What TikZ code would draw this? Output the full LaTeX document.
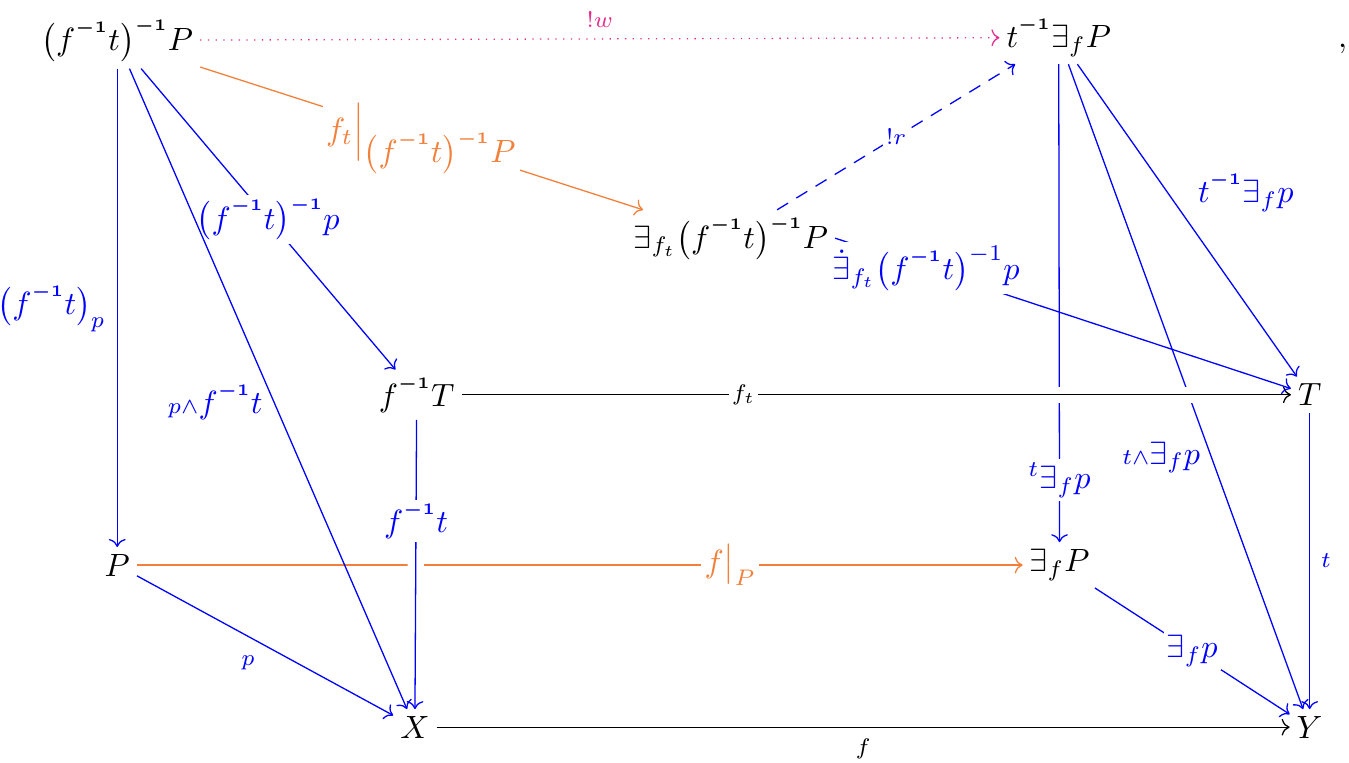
\documentclass[tikz,border=0pt]{standalone}
\usepackage{amsmath,amssymb}
\usepackage{tikz}
\usetikzlibrary{arrows.meta}
\definecolor{mapblue}{HTML}{0000FF}
\definecolor{restr}{HTML}{F2803A}
\definecolor{uniq}{HTML}{E62E8C}
% bold inverse after a bracket, and raised after a letter
\newcommand{\invb}{^{\scriptscriptstyle\boldsymbol{-1}}}
\newcommand{\invr}{^{\raisebox{2pt}{$\scriptscriptstyle\boldsymbol{-1}$}}}
\tikzset{
  obj/.style={inner sep=2pt},
  mor/.style={->,thin},
  bmor/.style={->,thin,mapblue},
  omor/.style={->,thin,restr},
  desc/.style={fill=white,inner sep=1pt},
  lbl/.style={font=\scriptsize},
  over/.style={preaction={draw=white,-,line width=5pt}},
}

\begin{document}
\begin{tikzpicture}
  \useasboundingbox (0,0) rectangle (14.73,-8.33);
  % objects
  \node[obj] (pbP) at (1.28,-0.44) {$\bigl(f\invr t\bigr)\invb P$};
  \node[obj] (tEP) at (11.56,-0.41) {$t\invr\exists_f P$};
  \node[obj,anchor=base] (comma) at (14.66,0 |- tEP.base) {$,$};
  \node[obj] (EpbP) at (7.98,-2.60) {$\exists_{f_t}\bigl(f\invr t\bigr)\invb P$};
  \node[obj] (fT) at (4.55,-4.31) {$f\invr T$};
  \node[obj] (T) at (14.30,-4.31) {$T$};
  \node[obj] (P) at (1.28,-6.17) {$P$};
  \node[obj] (EP) at (11.57,-6.17) {$\exists_f P$};
  \node[obj] (X) at (4.53,-7.94) {$X$};
  \node[obj] (Y) at (14.30,-7.94) {$Y$};
  % top part
  \draw[mor,dotted,uniq] (pbP) -- node[lbl,above]{$!w$} (tEP);
  \draw[omor] (pbP) -- node[desc]{$f_t\Big|_{\textstyle\bigl(f\invr t\bigr)\invb P}$} (EpbP);
  \draw[bmor,dash pattern=on 4pt off 3pt] (EpbP) -- node[lbl,desc]{$!r$} (tEP);
  \draw[bmor] (pbP) -- node[left]{$\bigl(f\invr t\bigr)_p$} (P);
  \draw[bmor] (pbP) -- node[desc]{$\bigl(f\invr t\bigr)\invb p$} (fT);
  \draw[bmor] (tEP) -- node[desc,pos=0.87]{${}^t\exists_f p$} (EP);
  \draw[bmor] (tEP) -- node[left,pos=0.61]{${\scriptstyle t\wedge}\exists_f p$} (Y);
  % restriction along the bottom, then the crossings
  \draw[omor] (P) -- node[desc,pos=0.67]{$f\big|_P$} (EP);
  \draw[mor,over] (fT) -- node[lbl,desc,pos=0.34]{$f_t$} (T);
  \draw[bmor,over] (fT) -- node[desc,pos=0.35]{$f\invr t$} (X);
  \draw[bmor] (pbP) -- node[left,pos=0.52]{${\scriptstyle p\wedge}f\invr t$} (X);
  \draw[bmor] (P) -- node[lbl,anchor=north east,inner sep=3pt]{$p$} (X);
  \draw[mor] (X) -- node[lbl,below]{$f$} (Y);
  \draw[bmor] (EpbP.east) -- node[desc,pos=0.2]{$\dot{\exists}_{f_t}\bigl(f\invr t\bigr)^{-1}p$} (T);
  \draw[bmor] (tEP) -- node[right=6pt,pos=0.41]{$t\invr\exists_f p$} (T);
  \draw[bmor] (T) -- node[lbl,right]{$t$} (Y);
  \draw[bmor] (EP) -- node[desc]{$\exists_f p$} (Y);
\end{tikzpicture}
\end{document}
